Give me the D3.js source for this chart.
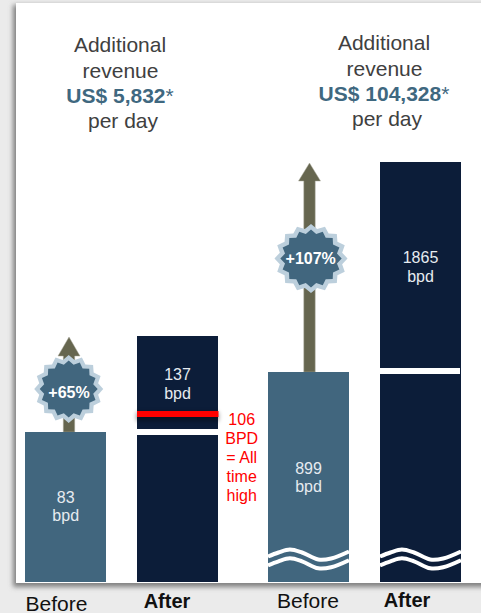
<!DOCTYPE html>
<html><head><meta charset="utf-8">
<script src="https://cdn.jsdelivr.net/npm/d3@7/dist/d3.min.js"></script>
<style>html,body{margin:0;padding:0;background:#ebebeb;overflow:hidden}svg{display:block}text{font-family:"Liberation Sans",Arial,sans-serif}</style>
</head><body><svg id="c" width="481" height="613"></svg>
<script>
const categories = ["Before","After","Before","After"];
const panels = [0,0,1,1];
const values = [83,137,899,1865];
const valueLabels = ["83","137","899","1865"];
const unit = "bpd";
const titleLines = ["Additional","revenue",null,"per day"];
const revenue = ["US$ 5,832","US$ 104,328"];
const growth = ["+65%","+107%"];
const recordValue = 106;
const recordLabel = ["106","BPD","= All","time","high"];

const svg=d3.select("#c");
const defs=svg.append("defs");
const f=defs.append("filter").attr("id","sh").attr("x","-5%").attr("y","-5%").attr("width","110%").attr("height","110%");
f.append("feGaussianBlur").attr("stdDeviation",2.6);
const fr=defs.append("filter").attr("id","sr").attr("x","-10%").attr("y","-200%").attr("width","120%").attr("height","500%");
fr.append("feGaussianBlur").attr("stdDeviation",2);

// page panel
svg.append("rect").attr("x",13).attr("y",5).attr("width",480).attr("height",582).attr("fill","#808080").attr("filter","url(#sh)");
svg.append("rect").attr("x",16).attr("y",3).attr("width",470).attr("height",580).attr("fill","#fff");

// scales: each panel has its own (the source axis is broken)
const yL=d3.scaleLinear().domain([0,83,106,137]).range([582,432,414,336]);
const yR=d3.scaleLinear().domain([0,899,1865]).range([582,372,162]);
const yOf=(i)=>panels[i]===0?yL:yR;
const x=d3.scaleOrdinal().domain(d3.range(4)).range([25,137,268,380]);
const bw=81;
const col=["#41667e","#0c1d39","#41667e","#0c1d39"];

// arrows
const arrowCol="#66664f";
[[0,1],[2,3]].forEach(([a,b],k)=>{
  const cx=x(a)+ (k===0?44:41.5);
  const base=yOf(a)(values[a]);
  const top=yOf(b)(values[b])+1;
  const hw=11,hh=k===0?19:18,sw=5.7;
  svg.append("path").attr("fill",arrowCol).attr("stroke","#a9a99a").attr("stroke-width",.5)
    .attr("d",d3.line()([[cx-sw,base],[cx-sw,top+hh],[cx-hw,top+hh],[cx,top],[cx+hw,top+hh],[cx+sw,top+hh],[cx+sw,base]])+"Z");
});

// bars
svg.selectAll("rect.bar").data(values).join("rect").attr("class","bar")
  .attr("x",(d,i)=>x(i)).attr("width",bw)
  .attr("y",(d,i)=>yOf(i)(d)).attr("height",(d,i)=>582-yOf(i)(d))
  .attr("fill",(d,i)=>col[i]);

// record line shadow, then axis break bands
const ry=yL(recordValue);
svg.append("rect").attr("x",x(1)-1).attr("y",ry-2).attr("width",bw+2).attr("height",9).attr("fill","#000").attr("opacity",.35).attr("filter","url(#sr)");
[[1,yL(83)-3],[3,yR(899)-4]].forEach(([i,y])=>{
  svg.append("rect").attr("x",x(i)).attr("y",y).attr("width",bw-(i===3?1:0)).attr("height",6).attr("fill","#fff");
});
svg.append("rect").attr("x",x(1)).attr("y",ry-3).attr("width",bw+.5).attr("height",6).attr("fill","#ff0000");
const recY=[425,444,463,482,501];
svg.selectAll("text.rec").data(recordLabel).join("text").attr("class","rec")
  .attr("x",241.7).attr("y",(d,i)=>recY[i]).attr("text-anchor","middle")
  .attr("font-size",16).attr("fill","#ff0000").text(d=>d);

// wave breaks
const waveX=d3.scaleLinear().domain([0,1]).range([0,bw]);
const waveShape=[[0,556.5],[.13,552.5],[.27,549.5],[.42,552.5],[.62,559.5],[.78,558.5],[1,551.5]];
const line=d3.line().curve(d3.curveCatmullRom);
[2,3].forEach(i=>{
  [0,8.8].forEach(dy=>{
    svg.append("path").attr("fill","none").attr("stroke","#fff").attr("stroke-width",4)
     .attr("d",line(waveShape.map(([u,v])=>[x(i)+waveX(u),v+dy])));
  });
});

// bar labels
const lab=[[503,521],[380,399],[474,492],[263,282]];
const labX=[65.7,177.5,308.5,420.5];
values.forEach((d,i)=>{
  [valueLabels[i],unit].forEach((t,j)=>{
    svg.append("text").attr("x",labX[i]).attr("y",lab[i][j]).attr("text-anchor","middle")
     .attr("font-size",16).attr("fill","#e6ebf0").text(t);
  });
});

// bursts
const nPts=16;
const burst=(R,r)=>d3.lineRadial().curve(d3.curveLinearClosed)(
  d3.range(nPts*2).map(k=>[k*Math.PI/nPts,k%2?r:R]));
[[68.7,389,34,33.5,0],[311,258.5,36,34,1]].forEach(([cx,cy,Rx,Ry,k])=>{
  const g=svg.append("g").attr("transform",`translate(${cx},${cy})`);
  const s=g.append("g").attr("transform",`scale(${Rx/34},${Ry/34})`);
  s.append("path").attr("d",burst(34.5,30)).attr("fill","#bccfdc");
  s.append("path").attr("d",burst(29,25)).attr("fill","#41667e");
  g.append("text").attr("text-anchor","middle").attr("x",k?-.3:.3).attr("y",k?5.8:9).attr("font-size",16).attr("font-weight","bold").attr("fill","#fff").text(growth[k]);
});

// titles
const titleX=[120,384];
const titleY=[[52,78,103,128],[50,76,101,126]];
const lineShift=[0,.5,0,3];
titleX.forEach((tx,k)=>{
  titleLines.forEach((t,j)=>{
    const el=svg.append("text").attr("x",tx+lineShift[j]).attr("y",titleY[k][j]).attr("text-anchor","middle").attr("font-size",21).attr("fill","#404040");
    if(t) el.text(t);
    else { el.append("tspan").attr("font-weight","bold").attr("fill","#3f6880").text(revenue[k]);
           el.append("tspan").attr("fill","#3f6880").text("*"); }
  });
});

// category labels
const catX=[56.5,167,308,407],catY=[611,608,608,607];
categories.forEach((c,i)=>{
  svg.append("text").attr("x",catX[i]).attr("y",catY[i]).attr("text-anchor","middle")
   .attr("font-size",i%2?20:21).attr("font-weight",i%2?"bold":"normal").attr("fill","#111").text(c);
});
</script></body></html>
